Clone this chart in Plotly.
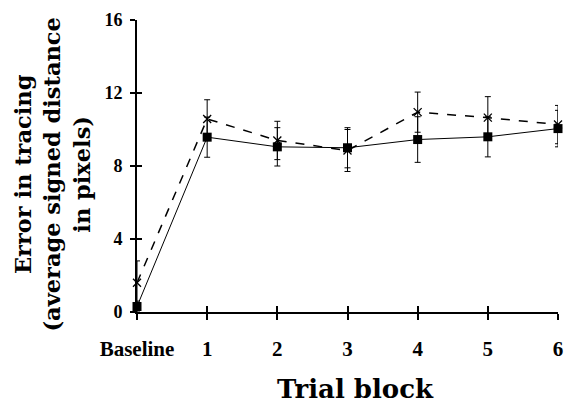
import plotly.graph_objects as go

categories = ["Baseline", "1", "2", "3", "4", "5", "6"]
x_pos = [0, 1, 2, 3, 4, 5, 6]
solid_vals = [0.3, 9.58, 9.05, 9.0, 9.45, 9.6, 10.05]
solid_err = [0.3, 1.1, 1.05, 1.1, 1.25, 1.1, 1.0]
dashed_vals = [1.6, 10.58, 9.4, 8.85, 10.95, 10.65, 10.27]
dashed_err = [1.2, 1.05, 1.05, 1.15, 1.1, 1.15, 1.05]
y_ticks = [0, 4, 8, 12, 16]

TICKFONT = "Liberation Serif"
TITLEFONT = "DejaVu Serif"

fig = go.Figure()
fig.add_trace(go.Scatter(
    x=x_pos, y=dashed_vals, mode="lines+markers",
    line=dict(color="black", width=1.5, dash="dash"),
    marker=dict(symbol="x-thin-open", size=8, color="black", line=dict(width=1.3, color="black")),
    error_y=dict(type="data", array=dashed_err, color="black", thickness=1, width=3),
    cliponaxis=False, showlegend=False))
fig.add_trace(go.Scatter(
    x=x_pos, y=solid_vals, mode="lines+markers",
    line=dict(color="black", width=1),
    marker=dict(symbol="square", size=9, color="black"),
    error_y=dict(type="data", array=solid_err, color="black", thickness=1, width=3),
    cliponaxis=False, showlegend=False))
fig.add_trace(go.Scatter(x=[None], y=[None], xaxis="x2", yaxis="y2", showlegend=False, hoverinfo="skip"))

fig.update_layout(
    width=564, height=406,
    margin=dict(l=137, r=6, t=20, b=94, autoexpand=False),
    paper_bgcolor="white", plot_bgcolor="white",
    font=dict(family=TICKFONT, color="black"),
    xaxis=dict(range=[0, 6], tickvals=x_pos, ticktext=categories,
               showline=True, linecolor="black", linewidth=2,
               ticks="outside", ticklen=6, tickwidth=2, tickcolor="black",
               showgrid=False, zeroline=False, automargin=False,
               ticklabelstandoff=11, ticklabeloverflow="allow",
               tickfont=dict(family=TICKFONT, size=21, color="black", weight="bold")),
    yaxis=dict(range=[0, 16], tickvals=y_ticks,
               showline=True, linecolor="black", linewidth=2,
               ticks="outside", ticklen=5, tickwidth=2, tickcolor="black",
               showgrid=False, zeroline=False, automargin=False,
               ticklabelstandoff=4, ticklabeloverflow="allow",
               tickfont=dict(family=TICKFONT, size=18, color="black", weight="bold")),
    xaxis2=dict(range=[0, 6], tickvals=x_pos, overlaying="x", anchor="y2",
                ticks="inside", ticklen=6, tickwidth=2, tickcolor="black", automargin=False,
                showticklabels=False, showline=False, showgrid=False, zeroline=False),
    yaxis2=dict(range=[0, 16], tickvals=y_ticks, overlaying="y", anchor="x2",
                ticks="inside", ticklen=5, tickwidth=2, tickcolor="black", automargin=False,
                showticklabels=False, showline=False, showgrid=False, zeroline=False),
    annotations=[
        dict(text="Error in tracing<br>(average signed distance<br>in pixels)",
             xref="paper", yref="paper", x=-0.2, y=0.47, textangle=-90,
             showarrow=False, xanchor="center", yanchor="middle",
             font=dict(family=TITLEFONT, size=22.5, color="black", weight="bold")),
        dict(text="Trial block", xref="paper", yref="paper", x=0.52, y=-0.265,
             showarrow=False, xanchor="center", yanchor="middle",
             font=dict(family=TITLEFONT, size=26, color="black", weight="bold")),
    ],
)

fig.write_html("out.html", config={"displayModeBar": False},
               post_script="document.body.style.margin='0';document.body.style.overflow='hidden';")
